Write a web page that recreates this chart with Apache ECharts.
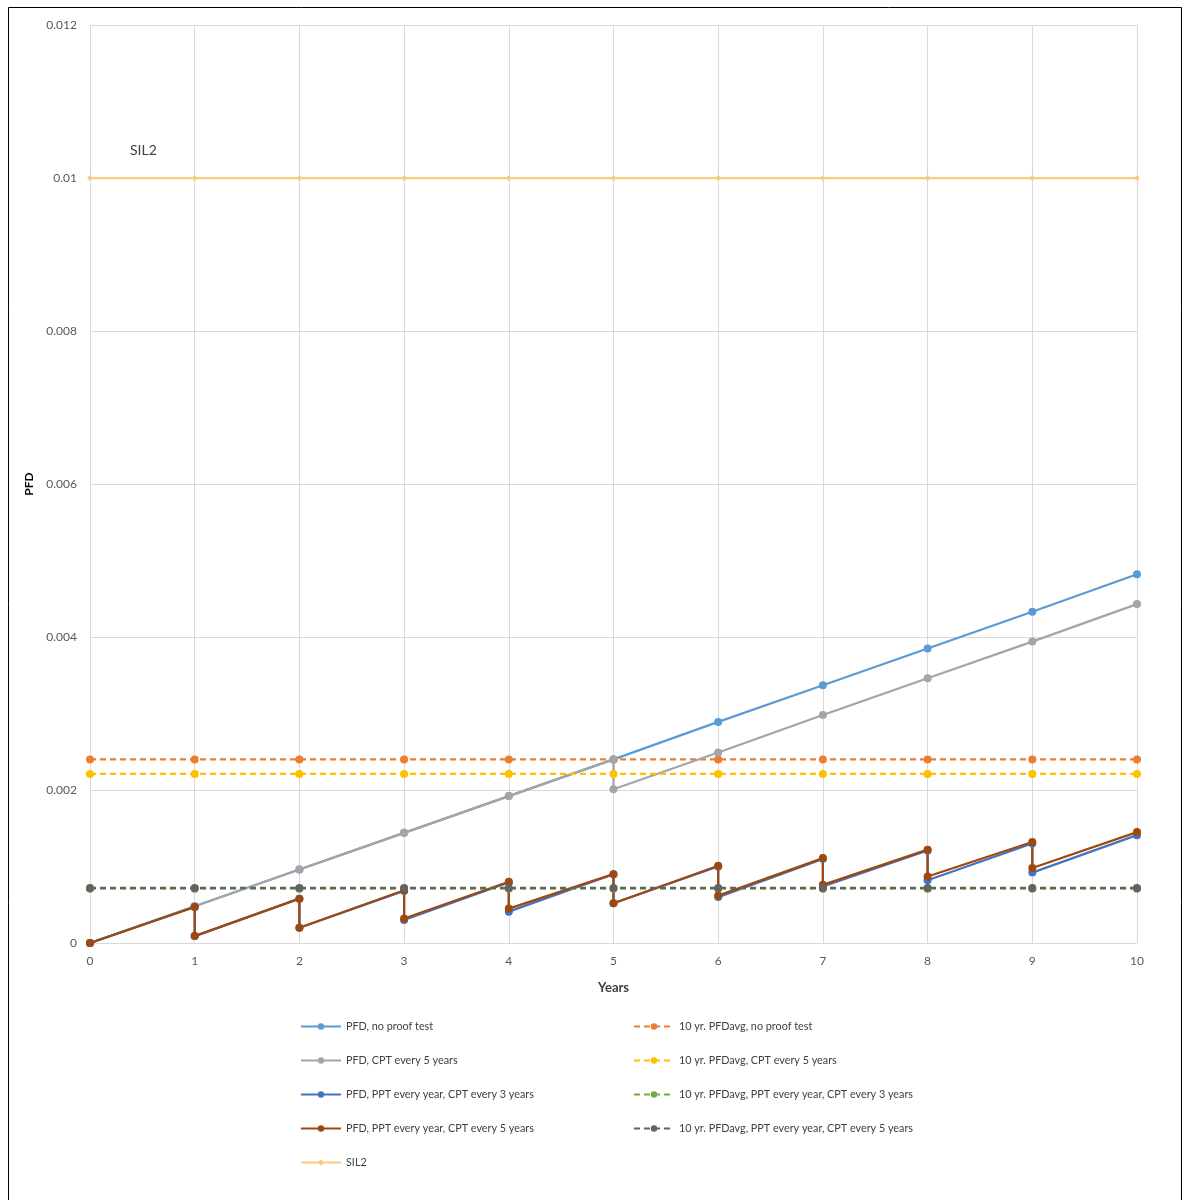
<!DOCTYPE html>
<html><head><meta charset="utf-8">
<script src="https://cdn.jsdelivr.net/npm/echarts@6/dist/echarts.min.js"></script>
<style>html,body{margin:0;padding:0;background:#fff}#c{width:1186px;height:1200px}</style>
</head><body><div id="c"></div>
<script>
const years = [0,1,2,3,4,5,6,7,8,9,10];
const pfdNoTest = [0,0.00048,0.00096,0.00144,0.00192,0.0024,0.00289,0.00337,0.00385,0.00433,0.00482];
const cptX = [0,1,2,3,4,5,5,6,7,8,9,10];
const pfdCpt5 = [0,0.00048,0.00096,0.00144,0.00192,0.0024,0.00201,0.00249,0.00298,0.00346,0.00394,0.00443];
const sawX = [0,1,1,2,2,3,3,4,4,5,5,6,6,7,7,8,8,9,9,10];
const pfdPptCpt3 = [0,0.00047,0.00009,0.00058,0.0002,0.00068,0.0003,0.00079,0.00041,0.0009,0.00052,0.001,0.0006,0.0011,0.00074,0.00121,0.00082,0.0013,0.00092,0.00141];
const pfdPptCpt5 = [0,0.00047,0.00009,0.00058,0.0002,0.00069,0.00032,0.0008,0.00045,0.0009,0.00052,0.00101,0.00062,0.00111,0.00076,0.00122,0.00087,0.00132,0.00098,0.00145];
const avgNoTest = [0.0024,0.0024,0.0024,0.0024,0.0024,0.0024,0.0024,0.0024,0.0024,0.0024,0.0024];
const avgCpt5 = [0.00221,0.00221,0.00221,0.00221,0.00221,0.00221,0.00221,0.00221,0.00221,0.00221,0.00221];
const avgPptCpt3 = [0.00071,0.00071,0.00071,0.00071,0.00071,0.00071,0.00071,0.00071,0.00071,0.00071,0.00071];
const avgPptCpt5 = [0.00072,0.00072,0.00072,0.00072,0.00072,0.00072,0.00072,0.00072,0.00072,0.00072,0.00072];
const sil2 = [0.01,0.01,0.01,0.01,0.01,0.01,0.01,0.01,0.01,0.01,0.01];
const yTicks = ['0','0.002','0.004','0.006','0.008','0.01','0.012'];

const names = {
  s1:'PFD, no proof test', s2:'10 yr. PFDavg, no proof test',
  s3:'PFD, CPT every 5 years', s4:'10 yr. PFDavg, CPT every 5 years',
  s5:'PFD, PPT every year, CPT every 3 years', s6:'10 yr. PFDavg, PPT every year, CPT every 3 years',
  s7:'PFD, PPT every year, CPT every 5 years', s8:'10 yr. PFDavg, PPT every year, CPT every 5 years',
  s9:'SIL2'
};
const zip = (xs, ys) => xs.map((x,i)=>[x, ys[i]]);
function mk(name, xs, ys, color, dashed, size, symbol){
  return {name, type:'line', data: zip(xs, ys), symbol: symbol||'circle', symbolSize: size||8,
    showSymbol:true, animation:false,
    itemStyle:{color}, lineStyle:{color, width:2.25, type: dashed? [6,4] : 'solid'}, z:2};
}
const chart = echarts.init(document.getElementById('c'), null, {renderer:'canvas'});
const font = 'Lato, "Open Sans", sans-serif';
const legendBase = {orient:'vertical', itemWidth:40, itemHeight:8, itemGap:23,
  textStyle:{fontSize:10.8, color:'#404040', fontFamily:font}};
chart.setOption({
  backgroundColor:'#fff',
  textStyle:{fontFamily:font},
  grid:{left:90, top:25, width:1047, height:918},
  xAxis:{type:'value', min:0, max:10, interval:1, name:'Years', nameLocation:'middle', nameGap:38,
    nameTextStyle:{fontWeight:'bold', fontSize:13, color:'#404040', fontFamily:font},
    axisLine:{show:true, lineStyle:{color:'#d9d9d9'}}, axisTick:{show:false},
    axisLabel:{color:'#595959', fontSize:12, margin:12, fontFamily:font},
    splitLine:{show:true, lineStyle:{color:'#d9d9d9'}}},
  yAxis:{type:'value', min:0, max:0.012, interval:0.002, name:'PFD', nameLocation:'middle', nameGap:54,
    nameTextStyle:{fontWeight:'bold', fontSize:12, color:'#000', fontFamily:font},
    axisLine:{show:false}, axisTick:{show:false},
    axisLabel:{color:'#595959', fontSize:12, margin:13, fontFamily:font,
      formatter:(v)=>yTicks[Math.round(v/0.002)]},
    splitLine:{show:true, lineStyle:{color:'#d9d9d9'}}},
  legend:[
    Object.assign({}, legendBase, {left:295, top:1016, data:[names.s1,names.s3,names.s5,names.s7,names.s9]}),
    Object.assign({}, legendBase, {left:628, top:1016, data:[names.s2,names.s4,names.s6,names.s8]})
  ],
  graphic:[
    {type:'rect', shape:{x:8.5, y:7.5, width:1173, height:1210}, style:{fill:null, stroke:'#000', lineWidth:1}, silent:true},
    {type:'text', left:130, top:143, style:{text:'SIL2', fontSize:14, fill:'#404040', fontFamily:font}}
  ],
  series:[
    mk(names.s1, years, pfdNoTest, '#5B9BD5'),
    mk(names.s2, years, avgNoTest, '#ED7D31', true),
    mk(names.s3, cptX, pfdCpt5, '#A5A5A5'),
    mk(names.s4, years, avgCpt5, '#FFC000', true),
    mk(names.s5, sawX, pfdPptCpt3, '#4472C4'),
    mk(names.s6, years, avgPptCpt3, '#70AD47', true),
    mk(names.s7, sawX, pfdPptCpt5, '#9E480E'),
    mk(names.s8, years, avgPptCpt5, '#636363', true),
    mk(names.s9, years, sil2, '#F9CB80', false, 6, 'diamond')
  ]
});
</script></body></html>
